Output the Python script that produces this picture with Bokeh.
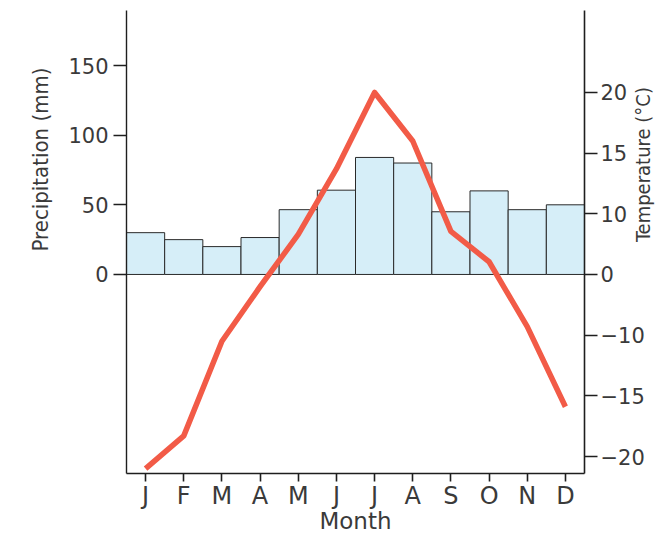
import numpy as np
from bokeh.plotting import figure
from bokeh.models import Range1d, LinearAxis, FixedTicker, Title, ColumnDataSource
from bokeh.embed import file_html
from bokeh.resources import INLINE

# ---- data ----
months = ["J", "F", "M", "A", "M", "J", "J", "A", "S", "O", "N", "D"]
precip_mm = [30, 25, 20, 26.5, 46.5, 60.5, 84, 80, 45, 60, 46.5, 50]
temp_c = [-21, -18.3, -10.5, -2, 6.6, 13.7, 20, 16, 7.1, 2.1, -8.6, -15.9]
precip_ticks = [0, 50, 100, 150]
temp_tick_labels = [-20, -15, -10, 0, 10, 15, 20]
temp_tick_pos = [-3, -2, -1, 0, 1, 2, 3]   # the right axis has equally spaced ticks


def temp_to_axis(t):
    tv, pv = temp_tick_labels, temp_tick_pos
    if t < tv[0]:
        return pv[0] + (t - tv[0]) / (tv[1] - tv[0]) * (pv[1] - pv[0])
    if t > tv[-1]:
        return pv[-1] + (t - tv[-1]) / (tv[-1] - tv[-2]) * (pv[-1] - pv[-2])
    return float(np.interp(t, tv, pv))


x = list(range(1, 13))
src = ColumnDataSource(dict(x=x, precip=precip_mm,
                            tpos=[temp_to_axis(t) for t in temp_c]))

TEXT = "#3a3a3a"
AX = "#1e1e1e"
COND = "'DejaVu Sans Condensed', 'DejaVu Sans'"

p = figure(width=671, height=534, output_backend="svg", toolbar_location=None,
           x_range=Range1d(0.5, 12.5), y_range=Range1d(-142.9, 189.5),
           min_border_left=126, min_border_right=87, min_border_top=10,
           min_border_bottom=61)
p.extra_y_ranges = {"temp": Range1d(-3.28, 4.351)}
p.outline_line_color = None
p.grid.visible = False
p.background_fill_color = "white"

p.vbar(x="x", top="precip", bottom=0, width=1, source=src,
       fill_color="#d6eef8", line_color="#2a2a2a", line_width=1)
p.line(x="x", y="tpos", source=src, y_range_name="temp",
       line_color="#f25b47", line_width=5.5, line_join="round", line_cap="butt")

# x axis (months)
xa = p.xaxis[0]
xa.ticker = FixedTicker(ticks=x)
xa.major_label_overrides = {i: m for i, m in zip(x, months)}
xa.major_tick_out = 8
xa.major_tick_in = 0
xa.minor_tick_line_color = None
xa.major_label_standoff = 0
xa.major_label_text_font = "DejaVu Sans"
xa.major_label_text_font_size = "24px"
xa.major_label_text_color = TEXT
xa.axis_line_color = AX
xa.axis_line_width = 1.6
xa.major_tick_line_color = AX
xa.major_tick_line_width = 1.6

# left axis (precipitation)
ya = p.yaxis[0]
ya.ticker = FixedTicker(ticks=precip_ticks)
ya.major_tick_out = 13
ya.major_tick_in = 0
ya.minor_tick_line_color = None
ya.major_label_standoff = 5
ya.major_label_text_font = "DejaVu Sans"
ya.major_label_text_font_size = "21px"
ya.major_label_text_color = TEXT
ya.axis_line_color = AX
ya.axis_line_width = 1.4
ya.major_tick_line_color = AX
ya.major_tick_line_width = 1.4

# right axis (temperature)
ra = LinearAxis(y_range_name="temp")
ra.ticker = FixedTicker(ticks=temp_tick_pos)
ra.major_label_overrides = {pos: (str(v) if v >= 0 else "\u2212" + str(-v))
                            for pos, v in zip(temp_tick_pos, temp_tick_labels)}
ra.major_tick_out = 13
ra.major_tick_in = 0
ra.minor_tick_line_color = None
ra.major_label_standoff = 3
ra.major_label_text_font = "DejaVu Sans"
ra.major_label_text_font_size = "21px"
ra.major_label_text_color = TEXT
ra.axis_line_color = AX
ra.axis_line_width = 1.6
ra.major_tick_line_color = AX
ra.major_tick_line_width = 1.4
ra.axis_label = "Temperature (\u00b0C)"
ra.axis_label_text_font = COND
ra.axis_label_text_font_size = "20px"
ra.axis_label_text_font_style = "normal"
ra.axis_label_text_color = TEXT
ra.axis_label_standoff = -5
ra.axis_label_orientation = np.pi / 2
p.add_layout(ra, "right")

# axis titles
p.add_layout(Title(text="Precipitation (mm)", align="left", offset=222,
                   standoff=25, text_font=COND,
                   text_font_size="22px", text_font_style="normal",
                   text_color=TEXT), "left")
p.add_layout(Title(text="Month", align="center", vertical_align="top",
                   standoff=-8.5, text_font="DejaVu Sans", text_font_size="23px",
                   text_font_style="normal", text_color=TEXT), "below")

open("out.html", "w").write(file_html(p, INLINE))
